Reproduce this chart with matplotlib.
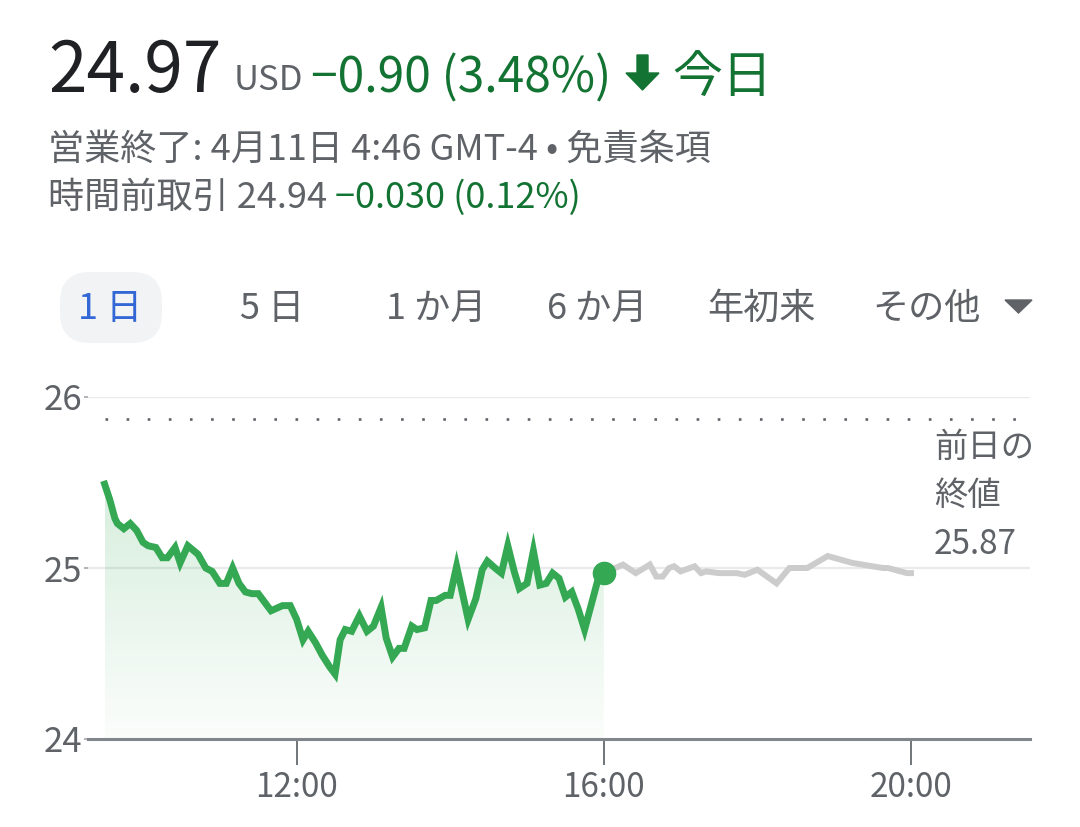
import numpy as np
import pandas as pd
import matplotlib
matplotlib.use('Agg')
import matplotlib.pyplot as plt
import matplotlib.dates as mdates
from matplotlib.transforms import Affine2D
from matplotlib.patches import Polygon, FancyBboxPatch

plt.rcParams['font.family'] = ['Noto Sans CJK JP', 'DejaVu Sans']

# --- data ---
day = '2024-04-11 '
green_times = ['09:30', '09:34', '09:38', '09:40', '09:45', '09:50', '09:55', '10:00', '10:04', '10:10',
               '10:15', '10:19', '10:25', '10:29', '10:35', '10:43', '10:49', '10:54', '11:00', '11:05',
               '11:10', '11:15', '11:20', '11:25', '11:30', '11:35', '11:40', '11:49', '11:55', '12:00',
               '12:05', '12:09', '12:15', '12:20', '12:26', '12:30', '12:34', '12:38', '12:43', '12:49',
               '12:55', '13:00', '13:06', '13:10', '13:15', '13:20', '13:24', '13:30', '13:34', '13:40',
               '13:45', '13:49', '13:56', '14:00', '14:05', '14:14', '14:20', '14:25', '14:29', '14:35',
               '14:40', '14:45', '14:50', '14:54', '15:00', '15:05', '15:10', '15:15', '15:20', '15:25',
               '15:30', '15:35', '15:40', '15:45', '15:50', '15:55', '16:00']
green_prices = [25.49, 25.40, 25.29, 25.26, 25.23, 25.26, 25.22, 25.15, 25.13, 25.12,
                25.06, 25.06, 25.12, 25.03, 25.13, 25.08, 25.00, 24.98, 24.91, 24.91,
                25.00, 24.91, 24.86, 24.85, 24.85, 24.80, 24.75, 24.78, 24.78, 24.70,
                24.58, 24.63, 24.56, 24.49, 24.42, 24.38, 24.58, 24.64, 24.63, 24.72,
                24.63, 24.66, 24.77, 24.59, 24.48, 24.53, 24.53, 24.66, 24.64, 24.65,
                24.81, 24.81, 24.84, 24.84, 25.01, 24.70, 24.82, 24.99, 25.04, 25.00,
                24.97, 25.13, 24.98, 24.88, 24.91, 25.10, 24.90, 24.91, 24.97, 24.94,
                24.83, 24.86, 24.76, 24.64, 24.78, 24.92, 24.97]
after_times = ['16:00', '16:15', '16:25', '16:36', '16:41', '16:46', '16:51', '16:55', '17:00', '17:11',
               '17:16', '17:20', '17:30', '17:44', '17:50', '18:00', '18:15', '18:25', '18:39', '18:55',
               '19:14', '19:38', '19:42', '19:57', '20:00']
after_prices = [24.97, 25.02, 24.97, 25.02, 24.95, 24.95, 25.00, 25.01, 24.98, 25.01,
                24.97, 24.98, 24.97, 24.97, 24.96, 24.99, 24.91, 25.00, 25.00, 25.07,
                25.03, 25.00, 25.00, 24.97, 24.97]
prev_close = 25.87
yticks = [24, 25, 26]
xtick_hours = [12, 16, 20]

gt = pd.to_datetime([day + t for t in green_times])
at = pd.to_datetime([day + t for t in after_times])
gp = np.array(green_prices)

W, H = 1080, 827
fig = plt.figure(figsize=(W / 100, H / 100), dpi=100)
PX = Affine2D().scale(1, -1).translate(0, H)  # pixel coords from top-left

GREEN_TXT = '#137333'
GRAY_TXT = '#5f6368'
LINE_GREEN = '#34a853'

# --- header text ---
fig.text(48, 92, '24.97', transform=PX, fontsize=50, color='#202124', va='baseline')
fig.text(234, 90, 'USD', transform=PX, fontsize=25, color=GRAY_TXT, va='baseline')
fig.text(311, 92, '−0.90 (3.48%)', transform=PX, fontsize=34.5, color=GREEN_TXT, va='baseline')
arrow = Polygon([(637, 55), (648, 55), (648, 73), (659, 73), (642.5, 90), (626, 73), (637, 73)],
                closed=True, transform=PX, color=GREEN_TXT)
fig.add_artist(arrow)
fig.text(672, 92, '今日', transform=PX, fontsize=36, color=GREEN_TXT, va='baseline')

fig.text(48, 160, '営業終了: 4月11日 4:46 GMT-4 • 免責条項', transform=PX, fontsize=26,
         color=GRAY_TXT, va='baseline')
fig.text(48, 208, '時間前取引 24.94', transform=PX, fontsize=26, color=GRAY_TXT, va='baseline')
fig.text(335, 208, '−0.030 (0.12%)', transform=PX, fontsize=26, color=GREEN_TXT, va='baseline')

# --- range tabs ---
pill = FancyBboxPatch((60, 272), 102, 71, boxstyle='round,pad=0,rounding_size=30',
                      transform=PX, facecolor='#f1f3f4', edgecolor='none')
fig.add_artist(pill)
fig.text(110, 309, '1 日', transform=PX, fontsize=26, color='#3367d6', ha='center', va='center')
for label, cx in [('5 日', 272), ('1 か月', 436), ('6 か月', 597), ('年初来', 761), ('その他', 926)]:
    fig.text(cx, 309, label, transform=PX, fontsize=26, color=GRAY_TXT, ha='center', va='center')
tri = Polygon([(1005, 300), (1032, 300), (1018.5, 313)], closed=True, transform=PX, color=GRAY_TXT)
fig.add_artist(tri)

# --- chart ---
ax = fig.add_axes([88 / W, 1 - 739 / H, (1030 - 88) / W, (739 - 397) / H])
x0 = pd.Timestamp(day + '09:17')
x1 = pd.Timestamp(day + '21:33')

for yv in yticks[1:]:
    ax.axhline(yv, color='#e8eaed', lw=1.6, zorder=0)

ax.plot([gt[0], x1], [prev_close, prev_close], color=GRAY_TXT, lw=1.9,
        dashes=(1, 7), zorder=1)

# gradient fill under the regular-session line
poly = ax.fill_between(gt, gp, 24, facecolor='none', edgecolor='none')
grad = np.zeros((256, 2, 4))
grad[:, :, 0] = 52 / 255
grad[:, :, 1] = 168 / 255
grad[:, :, 2] = 83 / 255
grad[:, :, 3] = np.linspace(0.2, 0.02, 256)[:, None]
img = ax.imshow(grad, aspect='auto', origin='upper',
                extent=[mdates.date2num(gt[0]), mdates.date2num(gt[-1]), 24, gp.max()],
                zorder=1, interpolation='bilinear')
img.set_clip_path(poly.get_paths()[0], transform=ax.transData)

ax.plot(at, after_prices, color='#cccccc', lw=4.3, solid_joinstyle='miter', zorder=2)
ax.plot(gt, gp, color=LINE_GREEN, lw=5, solid_joinstyle='miter', zorder=3)
ax.plot(gt[-1:], gp[-1:], 'o', color=LINE_GREEN, ms=16, zorder=4)

ax.set_xlim(x0, x1)
ax.set_ylim(24, 26)
ax.set_yticks(yticks)
ax.set_yticklabels([str(v) for v in yticks])
ax.xaxis.set_major_locator(mdates.HourLocator(byhour=xtick_hours))
ax.xaxis.set_major_formatter(mdates.DateFormatter('%H:%M'))

for s in ['top', 'right', 'left']:
    ax.spines[s].set_visible(False)
ax.spines['bottom'].set_color('#80868b')
ax.spines['bottom'].set_linewidth(2.2)
ax.tick_params(axis='x', direction='out', length=19, width=1.4, color='#70757a',
               labelsize=24, labelcolor=GRAY_TXT, pad=3)
ax.tick_params(axis='y', direction='out', length=3, width=1.4, color='#b0b3b8',
               labelsize=25, labelcolor=GRAY_TXT, pad=1)
ax.patch.set_alpha(0)

fig.text(934, 457, '前日の', transform=PX, fontsize=24, color=GRAY_TXT, va='baseline')
fig.text(934, 505, '終値', transform=PX, fontsize=24, color=GRAY_TXT, va='baseline')
fig.text(934, 554, '25.87', transform=PX, fontsize=24, color=GRAY_TXT, va='baseline')

fig.savefig('out.png', dpi=100, facecolor='white')
